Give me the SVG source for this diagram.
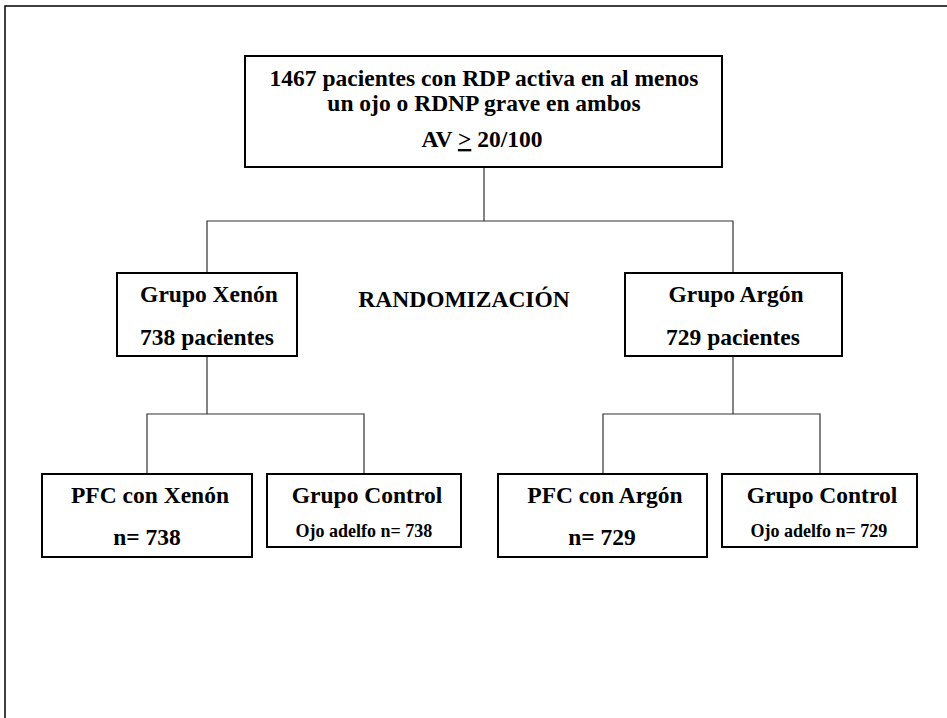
<svg xmlns="http://www.w3.org/2000/svg" width="947" height="718" viewBox="0 0 947 718">
<style>
.box{fill:#fff;stroke:#000;stroke-width:2}
.t{font-family:"Liberation Serif","Times New Roman",serif;font-weight:bold;font-size:23.5px;text-anchor:middle;fill:#000}
.s{font-size:18px}
.u{text-decoration:underline}
.c{fill:none;stroke:#333;stroke-width:1.2}
</style>
<rect x="5" y="6" width="1000" height="1000" fill="#fff" stroke="#000" stroke-width="1.5"/>
<g id="connectors">
<path class="c" d="M484,167 V221 M207,273 V221 H733 V273"/>
<path class="c" d="M207,356 V414 M147,474 V414 H364 V474"/>
<path class="c" d="M733,356 V414 M603,474 V414 H820 V474"/>
</g>
<g id="n-top">
<rect class="box" x="245" y="56" width="477" height="111"/>
<text class="t" x="484" y="86">1467 pacientes con RDP activa en al menos</text>
<text class="t" x="484" y="111">un ojo o RDNP grave en ambos</text>
<text class="t" x="482" y="147">AV <tspan class="u">&gt;</tspan> 20/100</text>
</g>
<g id="n-xenon">
<rect class="box" x="117" y="273" width="180" height="83"/>
<text class="t" x="209" y="302">Grupo Xenón</text>
<text class="t" x="207" y="345">738 pacientes</text>
</g>
<g id="n-random">
<text class="t" x="464" y="307">RANDOMIZACIÓN</text>
</g>
<g id="n-argon">
<rect class="box" x="625" y="273" width="217" height="83"/>
<text class="t" x="736" y="302">Grupo Argón</text>
<text class="t" x="733" y="345">729 pacientes</text>
</g>
<g id="n-pfc-xenon">
<rect class="box" x="42" y="474" width="210" height="83"/>
<text class="t" x="150" y="503">PFC con Xenón</text>
<text class="t" x="147" y="545">n= 738</text>
</g>
<g id="n-control-xenon">
<rect class="box" x="267" y="474" width="194" height="73"/>
<text class="t" x="367" y="503">Grupo Control</text>
<text class="t s" x="364" y="537">Ojo adelfo n= 738</text>
</g>
<g id="n-pfc-argon">
<rect class="box" x="498" y="474" width="209" height="83"/>
<text class="t" x="605" y="503">PFC con Argón</text>
<text class="t" x="602" y="545">n= 729</text>
</g>
<g id="n-control-argon">
<rect class="box" x="722" y="474" width="195" height="73"/>
<text class="t" x="822" y="503">Grupo Control</text>
<text class="t s" x="819" y="537">Ojo adelfo n= 729</text>
</g>
</svg>
